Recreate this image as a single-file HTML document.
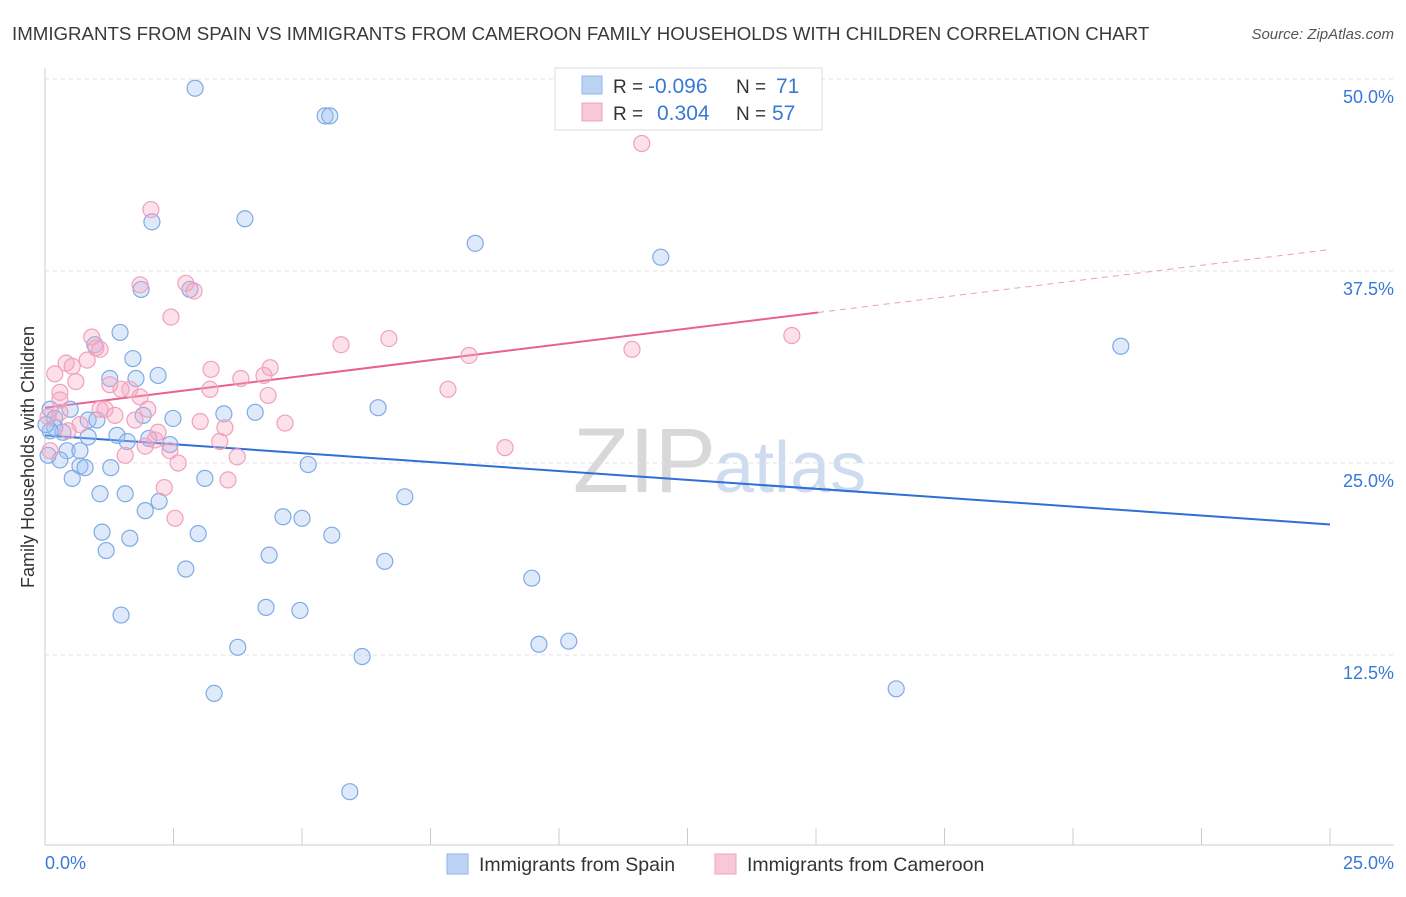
<!DOCTYPE html>
<html><head><meta charset="utf-8">
<style>
body{margin:0;background:#fff;font-family:"Liberation Sans",sans-serif;}
svg text{font-family:"Liberation Sans",sans-serif;}
</style></head>
<body>
<svg id="chart" width="1406" height="892" viewBox="0 0 1406 892" xmlns="http://www.w3.org/2000/svg">
<text x="12" y="40" font-size="18.7" fill="#3a3a3a">IMMIGRANTS FROM SPAIN VS IMMIGRANTS FROM CAMEROON FAMILY HOUSEHOLDS WITH CHILDREN CORRELATION CHART</text>
<text x="1394" y="39" font-size="15" fill="#555" text-anchor="end" font-style="italic">Source: ZipAtlas.com</text>
<text x="716" y="492" font-size="92" fill="#d8d8d8" text-anchor="end" font-family="Liberation Serif">ZIP</text>
<text x="714" y="492" font-size="72" fill="#cfdcf0">atlas</text>
<g id="grid"></g>
<g id="axes"></g>
<g id="lines"></g>
<g id="points"></g>
<text transform="translate(34,457) rotate(-90)" font-size="18" fill="#333" text-anchor="middle">Family Households with Children</text>
<text x="45" y="869" font-size="18" fill="#3a78d8">0.0%</text>
<text x="1394" y="869" font-size="18" fill="#3a78d8" text-anchor="end">25.0%</text>
<g>
<rect x="555" y="68" width="267" height="62" fill="#fff" stroke="#ddd"/>
<rect x="582" y="76" width="20" height="18" fill="#bcd4f4" stroke="#8fb4e8"/>
<rect x="582" y="103" width="20" height="18" fill="#f9c8d8" stroke="#f0a0bc"/>
<text x="613" y="93" font-size="19" fill="#333">R = </text><text x="648" y="93" font-size="21" fill="#3a78d8">-0.096</text>
<text x="736" y="93" font-size="19" fill="#333">N = </text><text x="776" y="93" font-size="21" fill="#3a78d8">71</text>
<text x="613" y="120" font-size="19" fill="#333">R = </text><text x="657" y="120" font-size="21" fill="#3a78d8">0.304</text>
<text x="736" y="120" font-size="19" fill="#333">N = </text><text x="772" y="120" font-size="21" fill="#3a78d8">57</text>
</g>
<g>
<rect x="447" y="854" width="21" height="20" fill="#bcd4f4" stroke="#8fb4e8"/>
<text x="479" y="871" font-size="19.5" fill="#333">Immigrants from Spain</text>
<rect x="715" y="854" width="21" height="20" fill="#f9c8d8" stroke="#f0a0bc"/>
<text x="747" y="871" font-size="19.5" fill="#333">Immigrants from Cameroon</text>
</g>
</svg>
<script>
const spainX=[2.92,5.45,5.54,3.89,2.08,8.37,11.98,1.87,2.82,1.46,0.97,1.71,20.93,2.20,1.26,1.77,6.48,4.09,3.48,2.49,1.91,0.49,0.10,0.19,0.84,1.01,0.19,0.35,0.84,1.40,1.60,2.02,2.43,0.43,0.68,0.29,0.68,0.78,1.28,5.12,0.53,3.11,1.07,1.56,7.00,2.22,1.95,4.63,5.00,1.11,2.98,5.58,1.65,1.19,4.36,6.61,2.74,9.47,4.30,4.96,1.48,9.61,10.19,3.75,6.17,16.56,3.29,5.93,0.10,0.02,0.06];
const spainY=[49.4,47.6,47.6,40.9,40.7,39.3,38.4,36.3,36.3,33.5,32.7,31.8,32.6,30.7,30.5,30.5,28.6,28.3,28.2,27.9,28.1,28.5,28.5,27.9,27.8,27.8,27.3,27.0,26.7,26.8,26.4,26.6,26.2,25.8,25.8,25.2,24.8,24.7,24.7,24.9,24.0,24.0,23.0,23.0,22.8,22.5,21.9,21.5,21.4,20.5,20.4,20.3,20.1,19.3,19.0,18.6,18.1,17.5,15.6,15.4,15.1,13.2,13.4,13.0,12.4,10.3,10.0,3.6,27.1,27.5,25.5];
const camX=[11.61,2.06,1.85,2.74,2.90,2.45,0.91,0.99,5.76,6.69,14.53,11.42,8.25,0.82,0.41,0.53,0.19,4.38,4.26,3.23,1.26,1.65,0.60,1.48,3.81,3.21,7.84,4.34,1.85,0.29,2.00,1.07,1.17,0.29,0.06,1.36,1.75,3.02,4.67,0.68,3.50,0.45,2.20,3.40,1.95,2.43,8.95,3.74,1.56,2.59,0.10,2.32,2.53,3.56,1.07,0.29,2.14];
const camY=[45.8,41.5,36.6,36.7,36.2,34.5,33.2,32.5,32.7,33.1,33.3,32.4,32.0,31.7,31.5,31.3,30.8,31.2,30.7,31.1,30.1,29.8,30.3,29.8,30.5,29.8,29.8,29.4,29.3,29.6,28.5,28.5,28.5,28.3,28.0,28.1,27.8,27.7,27.6,27.5,27.3,27.1,27.0,26.4,26.1,25.8,26.0,25.4,25.5,25.0,25.8,23.4,21.4,23.9,32.4,29.1,26.5];
const spainTrend=[26.8,21.0];
const camTrend=[28.6,34.8,38.9];
const camTrendX=[0,15.04,25];
const yTicks=[12.5,25.0,37.5,50.0];
const yTickLabels=["12.5%","25.0%","37.5%","50.0%"];
const xTicks=[0,2.5,5,7.5,10,12.5,15,17.5,20,22.5,25];

const NS="http://www.w3.org/2000/svg";
function sx(v){return 45+v*51.4;}
function sy(v){return 79+(50-v)*15.36;}
function mk(tag,attrs,parent){const e=document.createElementNS(NS,tag);for(const k in attrs)e.setAttribute(k,attrs[k]);parent.appendChild(e);return e;}
const grid=document.getElementById('grid'),axes=document.getElementById('axes'),lines=document.getElementById('lines'),pts=document.getElementById('points');
yTicks.forEach((t,i)=>{
  const l=mk('line',{x1:45,x2:1394,y1:sy(t),y2:sy(t),stroke:'#e2e2e2','stroke-dasharray':'4,4'},grid);
  
  
  const tx=mk('text',{x:1394,y:sy(t)+24,'font-size':18,fill:'#3a78d8','text-anchor':'end'},grid);
  tx.textContent=yTickLabels[i];
  
  
});
const xa=mk('line',{x1:45,x2:1394,y1:845,y2:845,stroke:'#ccc'},axes);


const ya=mk('line',{x1:45,x2:45,y1:68,y2:845,stroke:'#ccc'},axes);


xTicks.forEach(t=>{
  const l=mk('line',{x1:sx(t),x2:sx(t),y1:828,y2:845,stroke:'#ccc'},axes);
  
  
});
function dot(x,y,fill,stroke,name){
  const c=mk('circle',{cx:sx(x),cy:sy(y),r:8,fill:fill,stroke:stroke,'stroke-width':1.2},pts);
  
  
}
spainX.forEach((x,i)=>dot(x,spainY[i],'rgba(160,196,240,0.35)','#7faae6','spain-point'));
camX.forEach((x,i)=>dot(x,camY[i],'rgba(245,170,195,0.35)','#f0a0bc','cameroon-point'));
const bl=mk('line',{x1:sx(0),y1:sy(spainTrend[0]),x2:sx(25),y2:sy(spainTrend[1]),stroke:'#2f6fd6','stroke-width':2},lines);


const pl=mk('line',{x1:sx(camTrendX[0]),y1:sy(camTrend[0]),x2:sx(camTrendX[1]),y2:sy(camTrend[1]),stroke:'#e8628e','stroke-width':2},lines);


const pd=mk('line',{x1:sx(camTrendX[1]),y1:sy(camTrend[1]),x2:sx(camTrendX[2]),y2:sy(camTrend[2]),stroke:'#e8a0b8','stroke-width':1,'stroke-dasharray':'6,5'},lines);


</script>
</body></html>
